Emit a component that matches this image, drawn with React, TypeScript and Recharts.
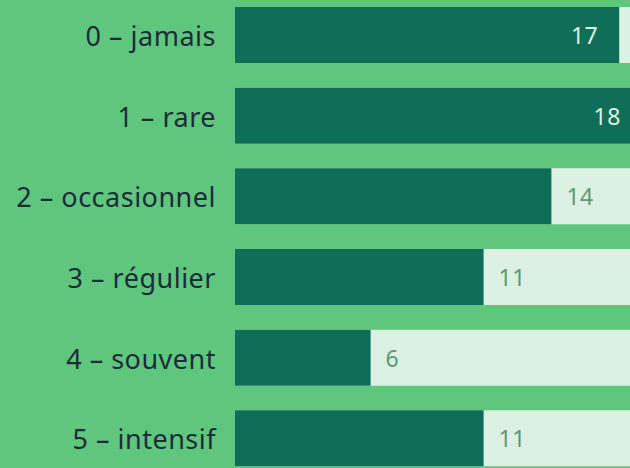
import React from 'react';
import { BarChart, Bar, XAxis, YAxis, LabelList } from 'recharts';

const categories = ['0 – jamais', '1 – rare', '2 – occasionnel', '3 – régulier', '4 – souvent', '5 – intensif'];
const values = [17, 18, 14, 11, 6, 11];

const data = categories.map((c, i) => ({ name: c, value: values[i] }));

const BG = '#5fc67e';
const BAR = '#0f6e58';
const TRACK = '#dcf0e3';

const Tick = (props: any) => {
  const { y, payload } = props;
  return (
    <text x={216} y={y} textAnchor="end" dominantBaseline="central" fill="#1e2b3a"
      style={{ fontFamily: 'Noto Sans', fontSize: 27, letterSpacing: 0.5 }}>
      {payload.value}
    </text>
  );
};

const ValueLabel = (props: any) => {
  const { x, y, width, height, value } = props;
  const inside = value >= 15;
  const end = x + width;
  return (
    <text
      x={inside ? end - 21 : end + 15}
      y={y + height / 2}
      textAnchor={inside ? 'end' : 'start'}
      dominantBaseline="central"
      fill={inside ? '#dcf0e3' : '#5c9a74'}
      style={{ fontFamily: 'Noto Sans', fontSize: 23, letterSpacing: 0.5 }}
    >
      {value}
    </text>
  );
};

export default function App() {
  return (
    <div style={{ position: 'fixed', left: 0, top: 0, width: 630, height: 468, overflow: 'hidden', background: BG }}>
      <div style={{ position: 'absolute', left: 0, top: -5 }}>
        <BarChart
          width={687}
          height={484}
          data={data}
          layout="vertical"
          margin={{ top: 0, right: 0, bottom: 0, left: 0 }}
          barSize={56}
          barCategoryGap={0}
        >
          <XAxis type="number" domain={[0, 20]} hide />
          <YAxis type="category" dataKey="name" width={235} axisLine={false} tickLine={false} tick={<Tick />} interval={0} />
          <Bar dataKey="value" fill={BAR} background={{ fill: TRACK }} isAnimationActive={false}>
            <LabelList dataKey="value" content={<ValueLabel />} />
          </Bar>
        </BarChart>
      </div>
    </div>
  );
}
